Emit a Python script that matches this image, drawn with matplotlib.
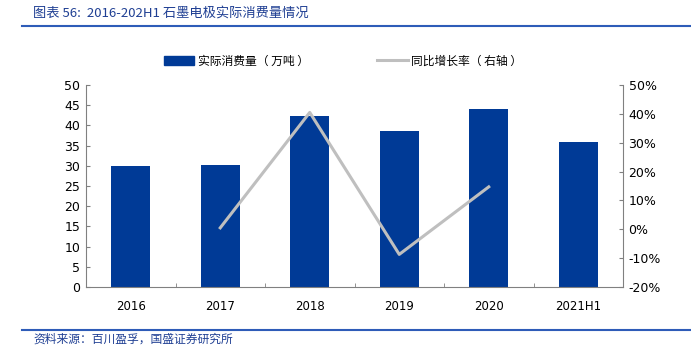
import numpy as np
import matplotlib
matplotlib.use('Agg')
import matplotlib.pyplot as plt
from matplotlib.lines import Line2D

plt.rcParams['font.family'] = ['DejaVu Sans', 'Noto Sans CJK SC']

###------------------------- data -------------------------###
years = ['2016', '2017', '2018', '2019', '2020', '2021H1']
consumption = [30.0, 30.3, 42.3, 38.6, 44.1, 35.8]       # 万吨
yoy_years = ['2017', '2018', '2019', '2020']
yoy = [0.5, 40.5, -8.7, 14.7]                             # %

left_ticks = list(range(0, 51, 5))
right_ticks = list(range(-20, 51, 10))

bar_color = '#003A96'
line_color = '#BFBFBF'
title_color = '#1F3F93'
cjk = ['Noto Sans CJK SC', 'DejaVu Sans']

###------------------------- figure -------------------------###
fig = plt.figure(figsize=(6.91, 3.6), dpi=100)
ax1 = fig.add_axes([86/691, 1-287/360, (623-86)/691, (287-85)/360])

x = np.arange(len(years))
ax1.bar(x, consumption, width=0.44, color=bar_color, zorder=2)
ax1.set_xlim(-0.5, len(years) - 0.5)
ax1.set_ylim(0, 50)
ax1.set_yticks(left_ticks)
ax1.set_xticks(x)
ax1.set_xticklabels(years)
ax1.set_xticks(np.arange(len(years) + 1) - 0.5, minor=True)
ax1.tick_params(axis='x', which='major', length=0, labelsize=8.5, pad=9)
ax1.tick_params(axis='x', which='minor', direction='in', length=3, color='#808080')
ax1.tick_params(axis='y', direction='in', length=3, labelsize=9, color='#808080', pad=4)

ax2 = ax1.twinx()
xi = [years.index(y) for y in yoy_years]
ax2.plot(xi, yoy, color=line_color, lw=2.2, zorder=3)
ax2.set_ylim(-20, 50)
ax2.set_yticks(right_ticks)
ax2.set_yticklabels([f'{t}%' for t in right_ticks])
ax2.tick_params(axis='y', direction='in', length=3, labelsize=9, color='#808080', pad=4)

for ax in (ax1, ax2):
    ax.spines['top'].set_visible(False)
    for s in ('left', 'right', 'bottom'):
        ax.spines[s].set_color('#808080')
        ax.spines[s].set_linewidth(0.8)
ax1.spines['right'].set_visible(False)
ax2.spines['left'].set_visible(False)
ax2.spines['bottom'].set_visible(False)

# legend
handles = [plt.Rectangle((0, 0), 1, 1, color=bar_color),
           Line2D([0], [0], color=line_color, lw=2.2)]
fig.legend(handles, ['实际消费量（ 万吨 ）', '同比增长率（ 右轴 ）'],
           loc='center', bbox_to_anchor=(343/691, 1-61/360), ncol=2,
           frameon=False, prop={'family': cjk, 'size': 8.5},
           handlelength=2.6, handleheight=0.9, handletextpad=0.3,
           columnspacing=5.8)

# title and source
fig.text(33/691, 1-13/360, '图表 56:  2016-202H1 石墨电极实际消费量情况',
         family=cjk, fontsize=9.5, color=title_color, fontstyle='italic',
         va='center', ha='left')
fig.add_artist(Line2D([22/691, 1.0], [1-26/360, 1-26/360], color='#2E5CB8', lw=1.5))
fig.add_artist(Line2D([22/691, 1.0], [1-330/360, 1-330/360], color='#2E5CB8', lw=1.5))
fig.text(33/691, 1-339/360, '资料来源：百川盈孚，国盛证券研究所',
         family=cjk, fontsize=8.5, color=title_color, fontstyle='italic',
         va='center', ha='left')

fig.savefig('out.png', dpi=100)
